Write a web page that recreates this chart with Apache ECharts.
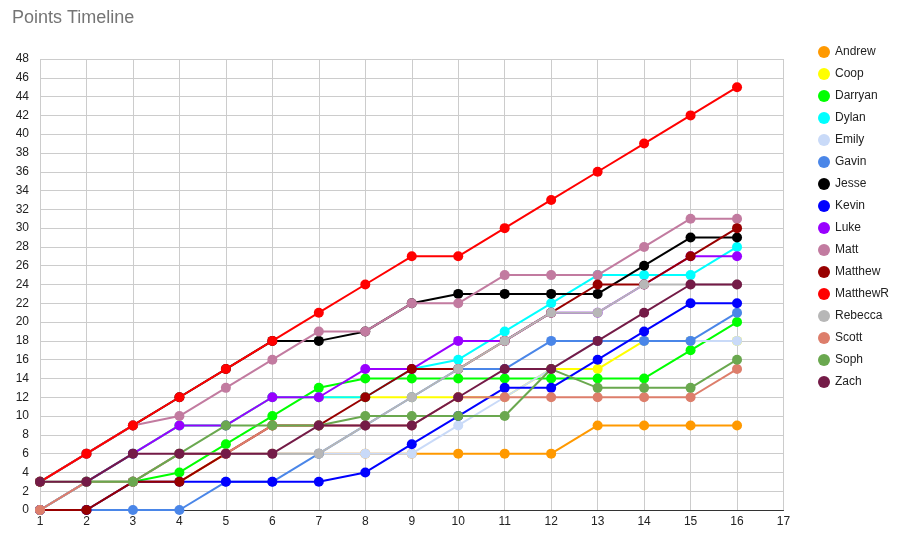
<!DOCTYPE html>
<html>
<head>
<meta charset="utf-8">
<script src="https://cdn.jsdelivr.net/npm/echarts@6/dist/echarts.min.js"></script>
<style>
html,body{margin:0;padding:0;background:#fff;}
#chart{width:900px;height:537px;}
</style>
</head>
<body>
<div id="chart"></div>
<script>
const rounds = [1,2,3,4,5,6,7,8,9,10,11,12,13,14,15,16];
const names = ["Andrew","Coop","Darryan","Dylan","Emily","Gavin","Jesse","Kevin","Luke","Matt","Matthew","MatthewR","Rebecca","Scott","Soph","Zach"];
const colors = ["#ff9900","#ffff00","#00ff00","#00ffff","#c9daf8","#4a86e8","#000000","#0000ff","#9900ff","#c27ba0","#980000","#ff0000","#b7b7b7","#dd7e6b","#6aa84f","#741b47"];

const Andrew   = [0,0,3,3,6,6,6,6,6,6,6,6,9,9,9,9];
const Coop     = [0,3,6,9,9,12,12,12,12,12,12,15,15,18,18,18];
const Darryan  = [0,3,3,4,7,10,13,14,14,14,14,14,14,14,17,20];
const Dylan    = [0,3,6,9,9,12,12,12,15,16,19,22,25,25,25,28];
const Emily    = [0,3,3,6,6,6,6,6,6,9,12,15,18,18,18,18];
const Gavin    = [0,0,0,0,3,3,6,9,12,15,15,18,18,18,18,21];
const Jesse    = [3,6,9,12,15,18,18,19,22,23,23,23,23,26,29,29];
const Kevin    = [0,0,3,3,3,3,3,4,7,10,13,13,16,19,22,22];
const Luke     = [0,3,6,9,9,12,12,15,15,18,18,21,21,24,27,27];
const Matt     = [3,6,9,10,13,16,19,19,22,22,25,25,25,28,31,31];
const Matthew  = [0,0,3,3,6,9,9,12,15,15,18,21,24,24,27,30];
const MatthewR = [3,6,9,12,15,18,21,24,27,27,30,33,36,39,42,45];
const Rebecca  = [0,3,3,6,6,6,6,9,12,15,18,21,21,24,24,24];
const Scott    = [0,3,3,6,6,9,9,9,9,12,12,12,12,12,12,15];
const Soph     = [3,3,3,6,9,9,9,10,10,10,10,15,13,13,13,16];
const Zach     = [3,3,6,6,6,6,9,9,9,12,15,15,18,21,24,24];

const values = [Andrew,Coop,Darryan,Dylan,Emily,Gavin,Jesse,Kevin,Luke,Matt,Matthew,MatthewR,Rebecca,Scott,Soph,Zach];

const series = names.map((n,i)=>({
  name:n,
  type:'line',
  data: rounds.map((r,j)=>[r, values[i][j]]),
  symbol:'circle',
  symbolSize:10,
  showSymbol:true,
  lineStyle:{width:2,color:colors[i]},
  itemStyle:{color:colors[i]},
  emphasis:{disabled:true},
  z:2+i*0.01
}));

const chart = echarts.init(document.getElementById('chart'));
chart.setOption({
  animation:false,
  backgroundColor:'#ffffff',
  color:colors,
  title:{
    text:'Points Timeline',
    left:7, top:4,
    textStyle:{fontFamily:'Liberation Sans, Arial, sans-serif',fontSize:18,fontWeight:'normal',color:'#757575'}
  },
  legend:{
    orient:'vertical',
    left:813, top:41,
    icon:'circle',
    itemWidth:12, itemHeight:12,
    itemGap:10,
    textStyle:{fontFamily:'Liberation Sans, Arial, sans-serif',fontSize:12,color:'#222222'},
    data:names
  },
  grid:{left:40,right:116.5,top:59,bottom:27,containLabel:false},
  xAxis:{
    type:'value', min:1, max:17, interval:1,
    axisLine:{show:true,lineStyle:{color:'#333333',width:1}},
    axisTick:{show:false},
    axisLabel:{color:'#222222',fontSize:12,fontFamily:'Liberation Sans, Arial, sans-serif',margin:6},
    splitLine:{show:true,lineStyle:{color:'#cccccc',width:1}}
  },
  yAxis:{
    type:'value', min:0, max:48, interval:2,
    axisLine:{show:false},
    axisTick:{show:false},
    axisLabel:{color:'#222222',fontSize:12,fontFamily:'Liberation Sans, Arial, sans-serif',margin:11},
    splitLine:{show:true,lineStyle:{color:'#cccccc',width:1}}
  },
  series:series
});
</script>
</body>
</html>
